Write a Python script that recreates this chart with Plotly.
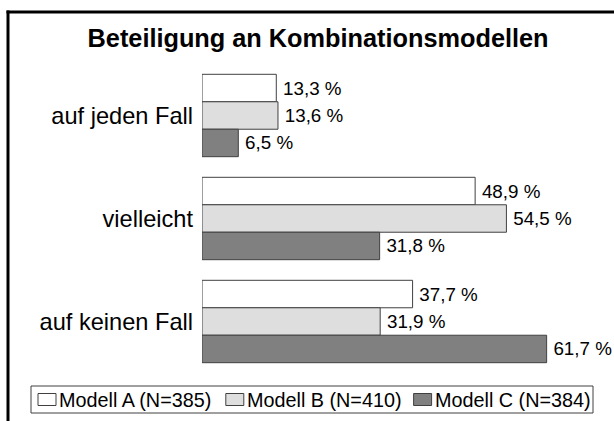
import plotly.graph_objects as go

categories = ["auf jeden Fall", "vielleicht", "auf keinen Fall"]
series_names = ["Modell A (N=385)", "Modell B (N=410)", "Modell C (N=384)"]
modell_a = [13.3, 48.9, 37.7]
modell_b = [13.6, 54.5, 31.9]
modell_c = [6.5, 31.8, 61.7]
series_values = [modell_a, modell_b, modell_c]
colors = ["#ffffff", "#dedede", "#808080"]

W, H = 614, 421
ml, mr, mt, mb = 202, 21, 64, 48
pw, ph = W - ml - mr, H - mt - mb
FONT = "Arial, Liberation Sans, sans-serif"


def px_x(px):
    return (px - ml) / pw


def px_y(py):
    return 1 - (py - mt) / ph


fig = go.Figure()
for name, vals, col in zip(series_names, series_values, colors):
    fig.add_trace(go.Bar(
        y=categories, x=vals, name=name, orientation="h",
        marker=dict(color=col, line=dict(color="#404040", width=1)),
        texttemplate="\u2009%{x:.1f} %", textposition="outside",
        textfont=dict(family=FONT, size=18.8, color="black"),
        cliponaxis=False, showlegend=False,
    ))

# manual legend (box, swatches, labels) and outer frame
shapes = [
    dict(type="rect", xref="paper", yref="paper",
         x0=px_x(31), x1=px_x(593), y0=px_y(386), y1=px_y(413),
         line=dict(color="#404040", width=1), fillcolor="white", layer="below"),
    dict(type="line", xref="paper", yref="paper",
         x0=px_x(8), x1=px_x(8), y0=px_y(10.5), y1=px_y(430),
         line=dict(color="black", width=3)),
    dict(type="line", xref="paper", yref="paper",
         x0=px_x(6.5), x1=px_x(620), y0=px_y(12), y1=px_y(12),
         line=dict(color="black", width=3)),
]
annotations = []
legend_starts = [38, 225.8, 413.6]
for name, col, sx in zip(series_names, colors, legend_starts):
    shapes.append(dict(type="rect", xref="paper", yref="paper",
                       x0=px_x(sx), x1=px_x(sx + 18), y0=px_y(393.5), y1=px_y(405.5),
                       fillcolor=col, line=dict(color="#404040", width=1)))
    annotations.append(dict(text=name, xref="paper", yref="paper",
                            x=px_x(sx + 19), y=px_y(399.5), xanchor="left", yanchor="middle",
                            showarrow=False,
                            font=dict(family=FONT, size=19.8, color="black")))

fig.update_layout(
    width=W, height=H,
    margin=dict(l=ml, r=mr, t=mt, b=mb, autoexpand=False),
    paper_bgcolor="white", plot_bgcolor="white",
    separators=",.",
    barmode="group", bargap=0.2, bargroupgap=0,
    font=dict(family=FONT, color="black"),
    title=dict(text="<b>Beteiligung an Kombinationsmodellen</b>",
               xref="container", x=0.518, xanchor="center",
               yref="container", y=1 - 38 / H, yanchor="middle",
               font=dict(family=FONT, size=25.3, color="black")),
    xaxis=dict(range=[0, 70], visible=False, fixedrange=True),
    yaxis=dict(autorange="reversed", showline=False, showgrid=False, ticks="",
               automargin=False, fixedrange=True,
               tickfont=dict(family=FONT, size=23.6, color="black"), ticklabelstandoff=8),
    showlegend=False,
    hovermode=False,
    shapes=shapes,
    annotations=annotations,
)

fig.write_html("out.html",
               config={"displayModeBar": False},
               post_script="document.body.style.margin='0';document.body.style.padding='0';")
